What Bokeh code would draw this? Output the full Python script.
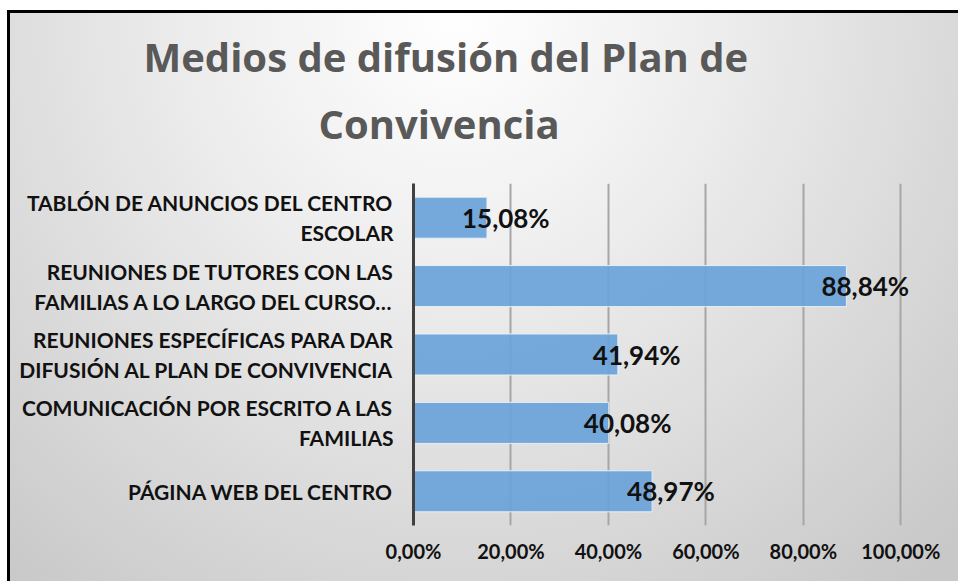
from bokeh.plotting import figure
from bokeh.models import ColumnDataSource, FactorRange, Range1d, FixedTicker, LabelSet, Title
from bokeh.core.properties import value
from bokeh.embed import file_html
from bokeh.resources import INLINE

title_line1 = "Medios de difusión del Plan de"
title_line2 = "Convivencia"
categories = [
    "TABLÓN DE ANUNCIOS DEL CENTRO\nESCOLAR",
    "REUNIONES DE TUTORES CON LAS\nFAMILIAS A LO LARGO DEL CURSO…",
    "REUNIONES ESPECÍFICAS PARA DAR\nDIFUSIÓN AL PLAN DE CONVIVENCIA",
    "COMUNICACIÓN POR ESCRITO A LAS\nFAMILIAS",
    "PÁGINA WEB DEL CENTRO",
]
values = [15.08, 88.84, 41.94, 40.08, 48.97]
value_labels = ["15,08%", "88,84%", "41,94%", "40,08%", "48,97%"]
tick_values = [0, 20, 40, 60, 80, 100]
tick_labels = ["0,00%", "20,00%", "40,00%", "60,00%", "80,00%", "100,00%"]

FONT = "Lato"
TFONT = "Open Sans"

source = ColumnDataSource(dict(cat=categories, val=values, lab=value_labels))

p = figure(
    width=951, height=571,
    y_range=FactorRange(*reversed(categories)),
    x_range=Range1d(0, 110),
    output_backend="svg", toolbar_location=None,
    min_border_left=403, min_border_right=12, min_border_top=170, min_border_bottom=59,
    styles={"border-top": "3px solid black", "border-left": "3px solid black",
            "margin-left": "7px", "margin-top": "10px",
            "background": "radial-gradient(ellipse 75% 130% at 47% 0%, #ffffff 0%, #eeeeee 35%, #c8c8c8 100%)"},
)
p.border_fill_alpha = 0
p.background_fill_alpha = 0
p.outline_line_color = None

p.hbar(y="cat", right="val", left=0, height=0.6, source=source,
       fill_color="#6aa3d9", fill_alpha=0.92, line_color="#e8eef6", line_width=1)

p.ygrid.grid_line_color = None
p.xgrid.grid_line_color = "#a6a6a6"
p.xgrid.grid_line_width = 2
p.xgrid.ticker = FixedTicker(ticks=tick_values)

p.xaxis.ticker = FixedTicker(ticks=tick_values)
p.xaxis.major_label_overrides = {v: l for v, l in zip(tick_values, tick_labels)}
p.xaxis.axis_line_color = None
p.xaxis.major_tick_line_color = None
p.xaxis.minor_tick_line_color = None
p.xaxis.major_label_standoff = 7
p.xaxis.major_label_text_font = FONT
p.xaxis.major_label_text_font_style = "bold"
p.xaxis.major_label_text_font_size = "20px"
p.xaxis.major_label_text_color = "#111111"

p.yaxis.axis_line_color = "#404040"
p.yaxis.axis_line_width = 3
p.yaxis.major_tick_line_color = None
p.yaxis.minor_tick_line_color = None
p.yaxis.major_label_standoff = 14
p.yaxis.major_label_text_font = FONT
p.yaxis.major_label_text_font_style = "bold"
p.yaxis.major_label_text_font_size = "21px"
p.yaxis.major_label_text_color = "#111111"
p.yaxis.major_label_text_line_height = 1.2

labels = LabelSet(x="val", y="cat", text="lab", source=source, x_offset=-25,
                  text_align="left", text_baseline="middle",
                  text_font=value(FONT), text_font_style="bold", text_font_size="26px",
                  text_color="#111111")
p.add_layout(labels)

t2 = Title(text=title_line2, align="left", offset=-95, standoff=66,
           text_font=TFONT, text_font_style="bold", text_font_size="40px",
           text_color="#595959")
p.add_layout(t2, "above")
p.title.text = title_line1
p.title.align = "left"
p.title.offset = -270
p.title.standoff = -46
p.title.text_font = TFONT
p.title.text_font_style = "bold"
p.title.text_font_size = "40px"
p.title.text_color = "#595959"

open("out.html", "w").write(file_html(p, INLINE))
